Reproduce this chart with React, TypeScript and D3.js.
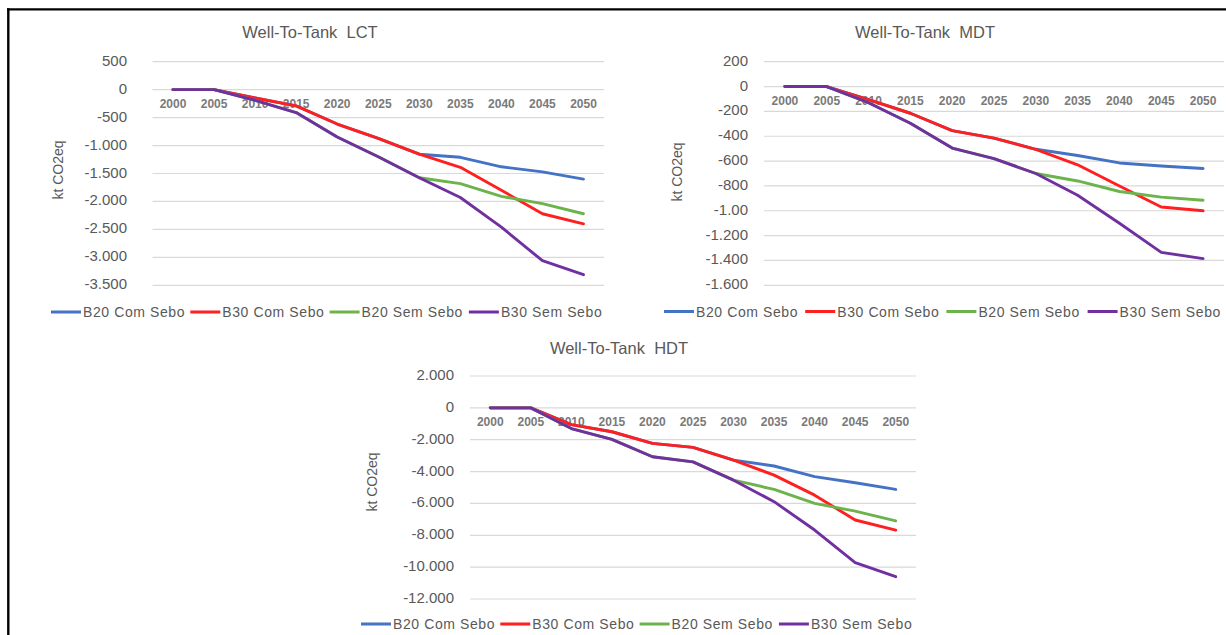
import React from "react";
import * as d3 from "d3";

// ---------- data ----------
const years = ["2000", "2005", "2010", "2015", "2020", "2025", "2030", "2035", "2040", "2045", "2050"];
const seriesNames = ["B20 Com Sebo", "B30 Com Sebo", "B20 Sem Sebo", "B30 Sem Sebo"];
const seriesColors = ["#4472c4", "#ff1f1f", "#6cb34c", "#7030a0"];

const lctB20Com = [0, 0, -150, -290, -615, -870, -1155, -1210, -1380, -1470, -1600];
const lctB30Com = [0, 0, -150, -290, -615, -870, -1155, -1390, -1800, -2220, -2400];
const lctB20Sem = [0, 0, -190, -410, -848, -1200, -1575, -1680, -1910, -2040, -2220];
const lctB30Sem = [0, 0, -190, -410, -848, -1200, -1575, -1930, -2460, -3060, -3310];
const lctTicks = [500, 0, -500, -1000, -1500, -2000, -2500, -3000, -3500];
const lctTickLabels = ["500", "0", "-500", "-1.000", "-1.500", "-2.000", "-2.500", "-3.000", "-3.500"];

const mdtB20Com = [0, 0, -105, -215, -355, -415, -505, -555, -615, -640, -660];
const mdtB30Com = [0, 0, -105, -215, -355, -415, -505, -630, -800, -970, -1000];
const mdtB20Sem = [0, 0, -130, -295, -495, -580, -700, -760, -845, -890, -915];
const mdtB30Sem = [0, 0, -130, -295, -495, -580, -700, -875, -1100, -1335, -1385];
const mdtTicks = [200, 0, -200, -400, -600, -800, -1000, -1200, -1400, -1600];
const mdtTickLabels = ["200", "0", "-200", "-400", "-600", "-800", "-1.00", "-1.200", "-1.400", "-1.600"];

const hdtB20Com = [0, 0, -1050, -1500, -2230, -2480, -3280, -3650, -4320, -4700, -5120];
const hdtB30Com = [0, 0, -1050, -1500, -2230, -2480, -3280, -4220, -5480, -7040, -7680];
const hdtB20Sem = [0, 0, -1300, -1980, -3070, -3390, -4540, -5120, -6000, -6480, -7100];
const hdtB30Sem = [0, 0, -1300, -1980, -3070, -3390, -4540, -5890, -7670, -9720, -10600];
const hdtTicks = [2000, 0, -2000, -4000, -6000, -8000, -10000, -12000];
const hdtTickLabels = ["2.000", "0", "-2.000", "-4.000", "-6.000", "-8.000", "-10.000", "-12.000"];

// ---------- layout ----------
const FONT = "'Liberation Sans', Arial, Helvetica, sans-serif";
const TEXT = "#595959";

type Layout = {
  title: string;
  titleX: number;
  titleY: number;
  x0: number;
  x1: number;
  yTop: number;
  yBottom: number;
  labelX: number;
  axisTitleX: number;
  axisTitleY: number;
  legendY: number;
  legendX: number;
  legendStep: number;
};

const charts: { layout: Layout; series: number[][]; ticks: number[]; tickLabels: string[] }[] = [
  {
    layout: {
      title: "Well-To-Tank  LCT", titleX: 310, titleY: 32,
      x0: 152.5, x1: 604, yTop: 61.7, yBottom: 285.3, labelX: 127,
      axisTitleX: 58, axisTitleY: 170, legendY: 312, legendX: 51, legendStep: 139.3,
    },
    series: [lctB20Com, lctB30Com, lctB20Sem, lctB30Sem],
    ticks: lctTicks,
    tickLabels: lctTickLabels,
  },
  {
    layout: {
      title: "Well-To-Tank  MDT", titleX: 925, titleY: 32,
      x0: 764, x1: 1224, yTop: 61.7, yBottom: 285.3, labelX: 748,
      axisTitleX: 677, axisTitleY: 172, legendY: 311.5, legendX: 664, legendStep: 141.2,
    },
    series: [mdtB20Com, mdtB30Com, mdtB20Sem, mdtB30Sem],
    ticks: mdtTicks,
    tickLabels: mdtTickLabels,
  },
  {
    layout: {
      title: "Well-To-Tank  HDT", titleX: 619, titleY: 348,
      x0: 470, x1: 916, yTop: 376, yBottom: 599, labelX: 454,
      axisTitleX: 372, axisTitleY: 482, legendY: 624, legendX: 361, legendStep: 139.3,
    },
    series: [hdtB20Com, hdtB30Com, hdtB20Sem, hdtB30Sem],
    ticks: hdtTicks,
    tickLabels: hdtTickLabels,
  },
];

function Chart({ layout, series, ticks, tickLabels }: { layout: Layout; series: number[][]; ticks: number[]; tickLabels: string[] }) {
  const x = d3.scaleBand<string>().domain(years).range([layout.x0, layout.x1]);
  const y = d3
    .scaleLinear()
    .domain([ticks[ticks.length - 1], ticks[0]])
    .range([layout.yBottom, layout.yTop]);
  const line = d3
    .line<number>()
    .x((_, i) => (x(years[i]) as number) + x.bandwidth() / 2)
    .y((d) => y(d));

  return (
    <g>
      <text x={layout.titleX} y={layout.titleY} textAnchor="middle" dominantBaseline="central"
        fontFamily={FONT} fontSize={16.5} fill={TEXT} xmlSpace="preserve" style={{ whiteSpace: "pre" }}>
        {layout.title}
      </text>
      {ticks.map((t, i) => (
        <g key={t}>
          <line x1={layout.x0} x2={layout.x1} y1={y(t)} y2={y(t)} stroke="#d9d9d9" strokeWidth={1.2} />
          <text x={layout.labelX} y={y(t) - 1.5} textAnchor="end" dominantBaseline="central"
            fontFamily={FONT} fontSize={15} fill={TEXT}>
            {tickLabels[i]}
          </text>
        </g>
      ))}
      {years.map((yr) => (
        <text key={yr} x={(x(yr) as number) + x.bandwidth() / 2} y={y(0) + 14}
          textAnchor="middle" dominantBaseline="central" fontFamily={FONT}
          fontSize={12} fontWeight="bold" fill="#7a7a7a">
          {yr}
        </text>
      ))}
      <text transform={`translate(${layout.axisTitleX},${layout.axisTitleY}) rotate(-90)`}
        textAnchor="middle" dominantBaseline="central" fontFamily={FONT} fontSize={14} fill={TEXT}>
        kt CO2eq
      </text>
      {series.map((s, i) => (
        <path key={i} d={line(s) || ""} fill="none" stroke={seriesColors[i]} strokeWidth={2.9}
          strokeLinejoin="round" strokeLinecap="round" />
      ))}
      {seriesNames.map((name, i) => {
        const lx = layout.legendX + i * layout.legendStep;
        return (
          <g key={name}>
            <line x1={lx} x2={lx + 30} y1={layout.legendY} y2={layout.legendY}
              stroke={seriesColors[i]} strokeWidth={3} />
            <text x={lx + 32} y={layout.legendY} dominantBaseline="central" fontFamily={FONT}
              fontSize={14} letterSpacing={0.6} fill={TEXT}>
              {name}
            </text>
          </g>
        );
      })}
    </g>
  );
}

export default function App() {
  return (
    <svg width={1226} height={635} style={{ position: "absolute", left: 0, top: 0, background: "#fff" }}>
      <rect x={0} y={0} width={1226} height={635} fill="#fff" />
      <line x1={8.3} x2={8.3} y1={8.3} y2={635} stroke="#000" strokeWidth={2.4} />
      <line x1={7} x2={1226} y1={9.3} y2={9.3} stroke="#000" strokeWidth={2.2} />
      {charts.map((c, i) => (
        <Chart key={i} layout={c.layout} series={c.series} ticks={c.ticks} tickLabels={c.tickLabels} />
      ))}
    </svg>
  );
}
